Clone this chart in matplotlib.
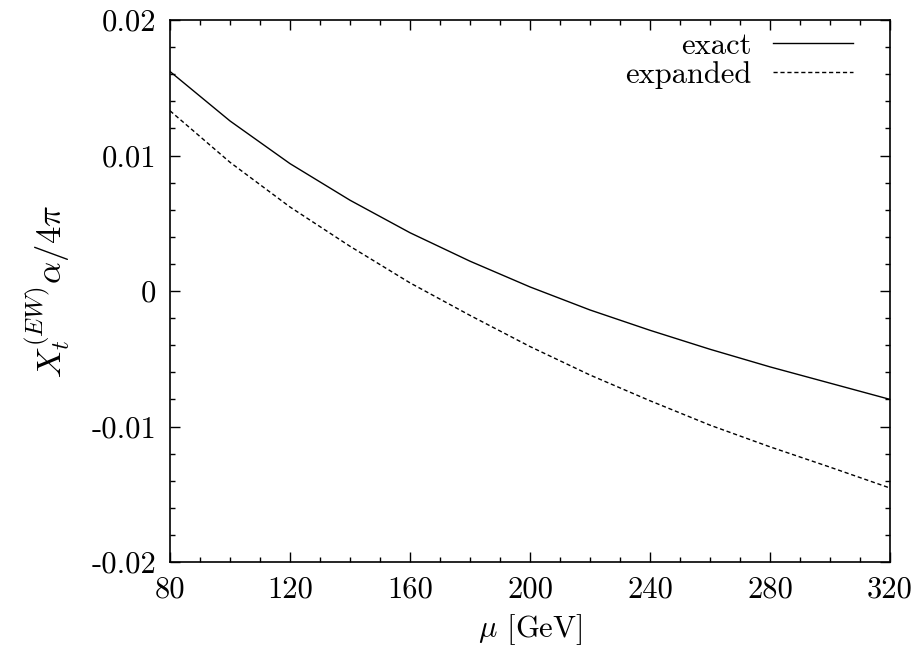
import matplotlib
matplotlib.use("Agg")
import matplotlib.pyplot as plt
from matplotlib.ticker import MultipleLocator

plt.rcParams['font.family'] = 'serif'
plt.rcParams['font.serif'] = ['cmr10']
plt.rcParams['mathtext.fontset'] = 'cm'
plt.rcParams['axes.unicode_minus'] = False

# values
mu = [80, 100, 120, 140, 160, 180, 200, 220, 240, 260, 280, 300, 320]
exact = [0.0162, 0.01255, 0.0094, 0.0067, 0.0043, 0.0022, 0.0003,
         -0.0014, -0.0029, -0.0043, -0.0056, -0.0068, -0.0080]
expanded = [0.0133, 0.0095, 0.0062, 0.0033, 0.0006, -0.0018, -0.0041,
            -0.0062, -0.0081, -0.0099, -0.0115, -0.0130, -0.01454]

xticks = [80, 120, 160, 200, 240, 280, 320]
yticks = [-0.02, -0.01, 0, 0.01, 0.02]
ytick_labels = ["-0.02", "-0.01", "0", "0.01", "0.02"]

fig = plt.figure(figsize=(9.22, 6.52), dpi=100)
ax = fig.add_axes([170/922, 1 - 562/652, 720/922, 542/652])

ax.plot(mu, exact, color='black', lw=1.0, label="exact")
ax.plot(mu, expanded, color='black', lw=1.0, dashes=(3, 2), label="expanded")

ax.set_xlim(80, 320)
ax.set_ylim(-0.02, 0.02)
ax.set_xticks(xticks)
ax.set_xticklabels([str(v) for v in xticks])
ax.set_yticks(yticks)
ax.set_yticklabels(ytick_labels)
ax.xaxis.set_minor_locator(MultipleLocator(10))
ax.yaxis.set_minor_locator(MultipleLocator(0.002))
ax.tick_params(which='both', direction='in', top=True, right=True, labelsize=22, width=1.0)
ax.tick_params(which='major', length=7, pad=10)
ax.tick_params(which='minor', length=3.5)
for s in ax.spines.values():
    s.set_linewidth(1.2)

ax.set_xlabel(r"$\mu$ [GeV]", fontsize=22, labelpad=6)
ax.set_ylabel(r"$X_t^{(EW)}\alpha/4\pi$", fontsize=25, labelpad=14)

ax.legend(loc='upper right', frameon=False, markerfirst=False, fontsize=22,
          handlelength=2.6, handletextpad=0.7, labelspacing=0.05,
          borderaxespad=0.0, bbox_to_anchor=(0.965, 1.0))

fig.savefig("out.png", dpi=100)
